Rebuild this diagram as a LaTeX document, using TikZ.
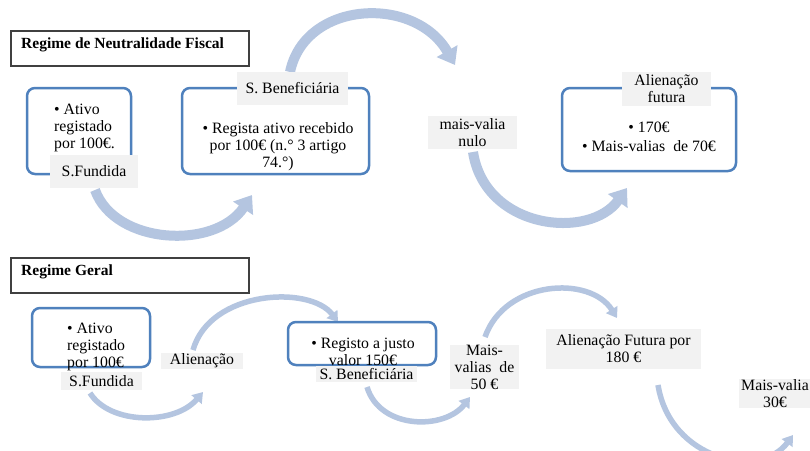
\documentclass[tikz,border=0pt]{standalone}
\usepackage{fontspec}
\setmainfont{Liberation Serif}
\usetikzlibrary{arrows.meta}
\definecolor{boxblue}{RGB}{79,129,189}
\definecolor{lblgrey}{RGB}{242,242,242}
\definecolor{arcblue}{RGB}{180,197,224}
\begin{document}
\begin{tikzpicture}[x=1pt,y=-1pt,
    every node/.style={font=\fontsize{15.8}{17}\selectfont, inner sep=0pt},
    titlebox/.style={draw=black!75, line width=1.3pt},
    flowbox/.style={draw=boxblue, line width=2.5pt, rounded corners=8pt},
    lbl/.style={fill=lblgrey, align=center},
    bigarc/.style={arcblue, line width=10pt, -{Triangle[length=16pt,width=23pt]}},
    smallarc/.style={arcblue, line width=5.5pt, -{Triangle[length=10pt,width=13pt]}}]
    \clip (0,0) rectangle (810,450);
    \fill[white] (0,0) rectangle (810,450);

    \coordinate (a1s) at (95,190);
    \coordinate (a1e) at (252,195);
    \coordinate (a2s) at (290,72);
    \coordinate (a2e) at (455,65);
    \coordinate (a3s) at (473,152);
    \coordinate (a3e) at (627,188);
    \draw[bigarc] (a1s) .. controls (115,245) and (215,250) .. (a1e);
    \draw[bigarc] (a2s) .. controls (305,0) and (415,-5) .. (a2e);
    \draw[bigarc] (a3s) .. controls (485,230) and (590,240) .. (a3e);

    \coordinate (b1s) at (90,393);
    \coordinate (b1e) at (203,392);
    \coordinate (b2s) at (193,350);
    \coordinate (b2e) at (338,322);
    \coordinate (b3s) at (367,387);
    \coordinate (b3e) at (470,397);
    \coordinate (b4s) at (485,337);
    \coordinate (b4e) at (617,318);
    \coordinate (b5s) at (658,385);
    \coordinate (b5e) at (793,435);
    \draw[smallarc] (b1s) .. controls (110,425) and (175,425) .. (b1e);
    \draw[smallarc] (b2s) .. controls (210,290) and (310,285) .. (b2e);
    \draw[smallarc] (b3s) .. controls (380,430) and (445,430) .. (b3e);
    \draw[smallarc] (b4s) .. controls (505,280) and (590,275) .. (b4e);
    \draw[smallarc] (b5s) .. controls (670,460) and (760,480) .. (b5e);

    \node[titlebox, minimum width=238, minimum height=35] (neutro) at (130,48.5) {};
    \node[anchor=west, font=\fontsize{15.5}{17}\selectfont\bfseries] (neutrotxt) at (21,45) {Regime de Neutralidade Fiscal};

    \node[flowbox, minimum width=104, minimum height=86] (fundbox1) at (79,131) {};
    \node[align=left, anchor=west] (fundtxt1) at (54,127.5) {• Ativo\\registado\\por 100€.};
    \node[lbl, minimum width=88, minimum height=33] (fund1) at (94,171.5) {S.Fundida};

    \node[flowbox, minimum width=187, minimum height=86] (benbox1) at (275.5,131) {};
    \node[align=center] (bentxt1) at (278,146.5) {• Regista ativo recebido\\por 100€ (n.° 3 artigo\\74.°)};
    \node[lbl, minimum width=111, minimum height=33] (ben1) at (292.5,88.5) {S. Beneficiária};

    \node[lbl, minimum width=89, minimum height=33] (mvnulo) at (472.5,132.5) {mais-valia\\nulo};

    \node[flowbox, minimum width=174, minimum height=83] (alienbox1) at (649,129.5) {};
    \node[align=center] (alientxt1) at (649,137) {• 170€\\[2pt]• Mais-valias\ \ de 70€};
    \node[lbl, minimum width=89, minimum height=34] (alien1) at (666.5,89) {Alienação\\futura};

    \node[titlebox, minimum width=238, minimum height=35] (geral) at (130,275.5) {};
    \node[anchor=west, font=\fontsize{15.5}{17}\selectfont\bfseries] (geraltxt) at (21,272) {Regime Geral};

    \node[flowbox, minimum width=118, minimum height=59] (fundbox2) at (91,337.5) {};
    \node[align=left, anchor=west] (fundtxt2) at (67,346.5) {• Ativo\\registado\\por 100€};
    \node[lbl, minimum width=81, minimum height=18] (fund2) at (101.5,381) {S.Fundida};

    \node[lbl, minimum width=82, minimum height=16] (alien2) at (202,361) {Alienação};

    \node[flowbox, minimum width=148, minimum height=43] (benbox2) at (362,343.5) {};
    \node[align=center] (bentxt2) at (363,352) {• Registo a justo\\valor 150€};
    \node[lbl, minimum width=101, minimum height=16] (ben2) at (366.5,374) {S. Beneficiária};

    \node[lbl, minimum width=69, minimum height=44] (mv50) at (484.5,367) {Mais-\\valias\ \ de\\50 €};

    \node[lbl, minimum width=155, minimum height=40] (alien3) at (623.5,349) {Alienação Futura por\\180 €};

    \node[lbl, minimum width=72, minimum height=29] (mv30) at (775,393.5) {Mais-valia\\30€};
\end{tikzpicture}
\end{document}
